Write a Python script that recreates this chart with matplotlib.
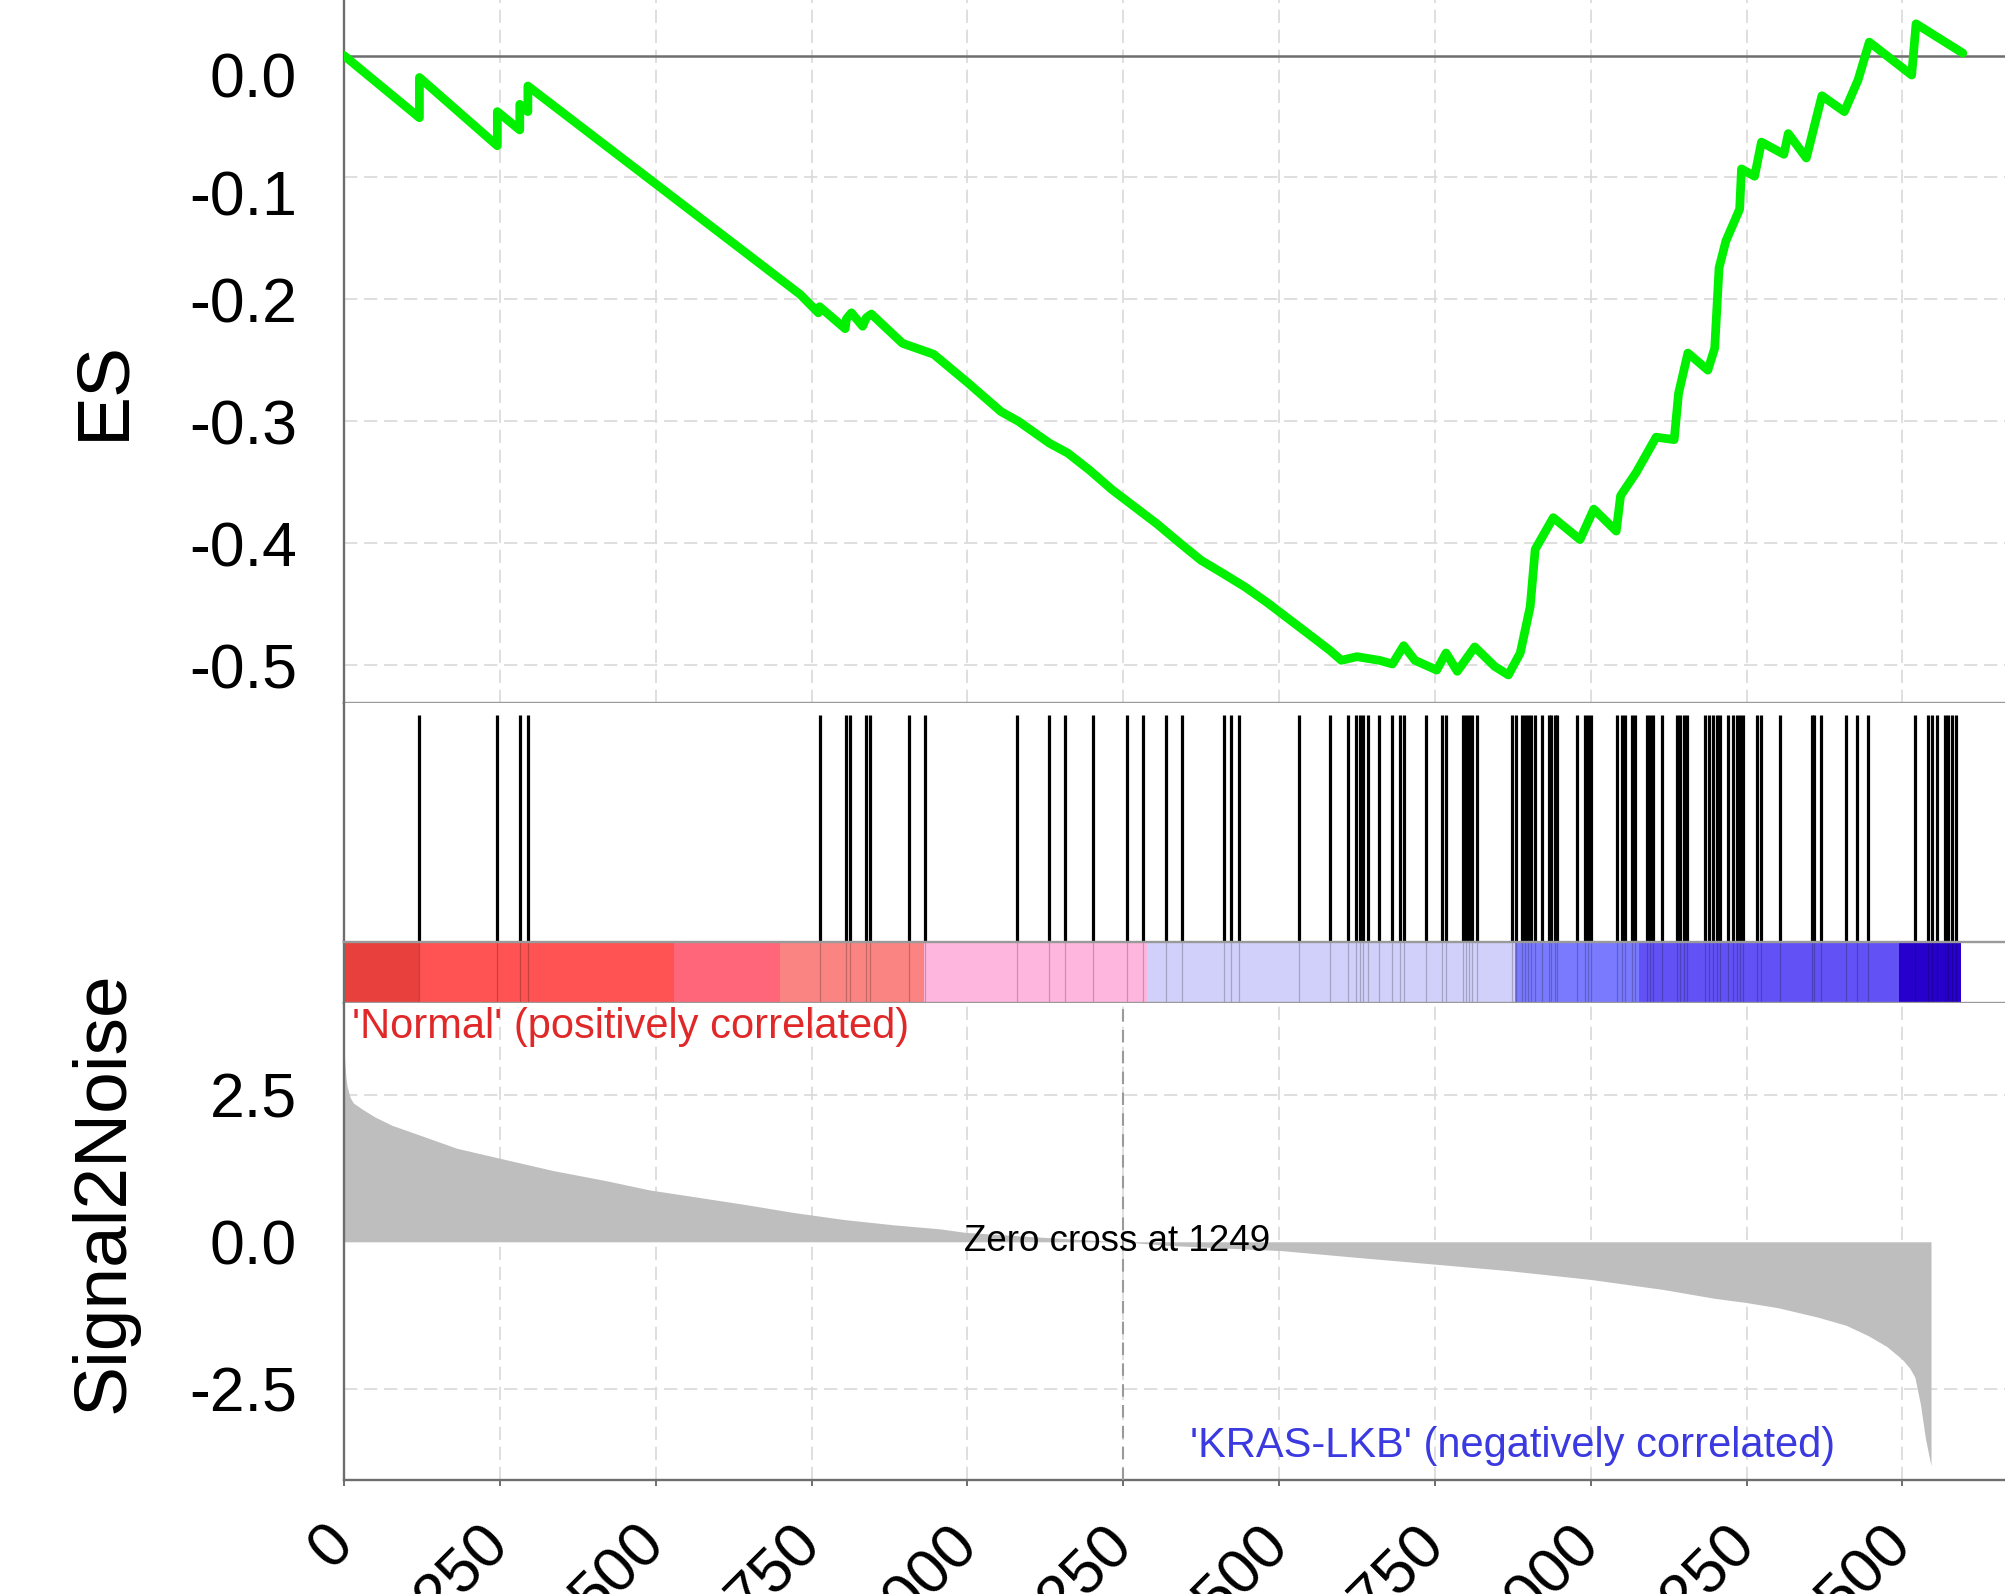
import matplotlib
matplotlib.use("Agg")
import matplotlib.pyplot as plt
import matplotlib.transforms as mtransforms

plt.rcParams['font.family'] = ['Liberation Sans', 'DejaVu Sans']
plt.rcParams['axes.unicode_minus'] = False

# ---------------- data ----------------
# running enrichment score (rank, ES) vertices
es_rank = [0, 121, 121, 246, 246, 282, 282, 295, 295, 732, 761, 763, 804, 806,
           814, 832, 838, 846, 896, 946, 1000, 1054, 1082, 1132, 1161, 1196, 1232,
           1268, 1304, 1339, 1375, 1411, 1446, 1482, 1518, 1554, 1582, 1600, 1625,
           1661, 1682, 1700, 1718, 1753, 1768, 1786, 1814, 1846, 1868, 1887, 1903,
           1911, 1940, 1983, 2005, 2041, 2048, 2073, 2105, 2134, 2141, 2156, 2188,
           2199, 2206, 2217, 2239, 2242, 2263, 2274, 2310, 2317, 2346, 2371, 2407,
           2429, 2447, 2515, 2522, 2597]
es_value = [0.000, -0.051, -0.018, -0.074, -0.046, -0.061, -0.040, -0.046, -0.025,
            -0.196, -0.211, -0.206, -0.224, -0.216, -0.211, -0.222, -0.215, -0.212,
            -0.236, -0.245, -0.268, -0.292, -0.300, -0.318, -0.326, -0.340, -0.356,
            -0.370, -0.384, -0.399, -0.414, -0.425, -0.436, -0.449, -0.463, -0.477,
            -0.488, -0.496, -0.493, -0.496, -0.499, -0.484, -0.496, -0.504, -0.490,
            -0.505, -0.485, -0.501, -0.508, -0.490, -0.452, -0.405, -0.379, -0.397,
            -0.372, -0.390, -0.361, -0.342, -0.313, -0.315, -0.277, -0.244, -0.258,
            -0.240, -0.174, -0.152, -0.126, -0.093, -0.099, -0.071, -0.081, -0.064,
            -0.084, -0.033, -0.046, -0.020, 0.011, -0.016, 0.026, 0.002]

# positions of gene-set members in the ranked list
hits = [121, 246, 282, 295, 763, 806, 812, 838, 844, 907, 932, 1080, 1131, 1157,
        1202, 1256, 1282, 1319, 1344, 1412, 1423, 1436, 1532, 1582, 1611, 1624,
        1630, 1635, 1643, 1661, 1681, 1694, 1701, 1736, 1762, 1768, 1795, 1800,
        1805, 1810, 1818, 1874, 1880, 1890, 1895, 1900, 1905, 1910, 1922, 1933,
        1937, 1942, 1946, 1978, 1991, 1996, 2001, 2043, 2050, 2055, 2066, 2071,
        2090, 2095, 2100, 2114, 2138, 2144, 2150, 2155, 2184, 2190, 2197, 2202,
        2207, 2220, 2228, 2235, 2240, 2244, 2267, 2273, 2304, 2355, 2359, 2369,
        2410, 2427, 2445, 2520, 2541, 2547, 2556, 2568, 2574, 2580, 2586]

# ranked list metric (Signal2Noise) profile
metric_rank = [0, 1, 3, 5, 10, 15, 30, 50, 77, 120, 181, 250, 336, 420, 491, 560,
               646, 720, 801, 880, 956, 997, 1100, 1180, 1249, 1320, 1420, 1504,
               1620, 1750, 1868, 2000, 2116, 2198, 2248, 2300, 2364, 2410, 2446,
               2475, 2500, 2512, 2520, 2529, 2537, 2546]
metric_value = [3.45, 3.10, 2.80, 2.64, 2.45, 2.36, 2.25, 2.12, 1.98, 1.82, 1.59,
                1.42, 1.21, 1.04, 0.88, 0.77, 0.63, 0.50, 0.38, 0.29, 0.22, 0.16,
                0.09, 0.04, 0.00, -0.06, -0.11, -0.15, -0.26, -0.38, -0.49, -0.64,
                -0.81, -0.96, -1.03, -1.12, -1.28, -1.42, -1.60, -1.78, -2.00,
                -2.15, -2.30, -2.76, -3.34, -3.81]
zero_cross = 1249

# heat-map bar of the ranked list
bar_edges = [0, 121, 529, 700, 931, 1289, 1878, 2078, 2494, 2594]
bar_colors = ['#E8403C', '#FF5252', '#FF667A', '#FA8482', '#FFB6DE',
              '#D0D0FA', '#7A7AFF', '#6252F5', '#2800CD']

x_ticks = [0, 250, 500, 750, 1000, 1250, 1500, 1750, 2000, 2250, 2500]
es_ticks = [0.0, -0.1, -0.2, -0.3, -0.4, -0.5]
rk_ticks = [2.5, 0.0, -2.5]

pos_label = "'Normal' (positively correlated)"
neg_label = "'KRAS-LKB' (negatively correlated)"

# ---------------- layout ----------------
W, H = 2005, 1594
fig = plt.figure(figsize=(W / 100, H / 100), dpi=100)


def box(x0, y_top, x1, y_bot):
    return [x0 / W, 1 - y_bot / H, (x1 - x0) / W, (y_bot - y_top) / H]


XL, XR = 344, 2027
ax_es = fig.add_axes(box(XL, -42, XR, 703))
ax_hit = fig.add_axes(box(XL, 703, XR, 942))
ax_bar = fig.add_axes(box(XL, 942, XR, 1003))
ax_rk = fig.add_axes(box(XL, 1003, XR, 1480))

dark = '#6E6E6E'
sep = '#9A9A9A'
grid_kw = dict(color='#D9D9D9', lw=1.2, ls=(0, (8, 4)))

for ax in (ax_es, ax_hit, ax_bar, ax_rk):
    ax.set_xlim(0, 2700)
    ax.set_facecolor('white')
    ax.spines['right'].set_visible(False)
    ax.spines['top'].set_visible(False)
    ax.spines['left'].set_color(dark)
    ax.spines['left'].set_linewidth(1.7)
    ax.spines['bottom'].set_color(sep)
    ax.spines['bottom'].set_linewidth(1.7)
    ax.set_xticks(x_ticks)
    ax.tick_params(axis='both', length=0, labelsize=45, pad=34)

# ES panel
ax_es.set_ylim(-0.531, 0.080)
ax_es.set_yticks(es_ticks)
ax_es.set_yticklabels([f'{v:.1f}' for v in es_ticks])
ax_es.set_xticklabels([])
# the two upper score labels sit a little below their grid lines
for lab, drop in zip(ax_es.get_yticklabels()[:2], (14, 11)):
    lab.set_transform(lab.get_transform() +
                      mtransforms.ScaledTranslation(0, -drop / 72,
                                                    fig.dpi_scale_trans))
for x in x_ticks:
    ax_es.axvline(x, zorder=0, **grid_kw)
for y in es_ticks[1:]:
    ax_es.axhline(y, zorder=0, **grid_kw)
ax_es.axhline(0, color=dark, lw=1.8, zorder=1)
ax_es.plot(es_rank, es_value, color='#00F000', lw=6.3,
           solid_joinstyle='round', solid_capstyle='round', zorder=3)

# hits panel
ax_hit.set_ylim(0, 1)
ax_hit.set_yticks([])
ax_hit.set_xticklabels([])
ax_hit.spines['bottom'].set_visible(False)
ax_hit.vlines(hits, 0, 0.95, color='black', lw=2.3)

# heat-map bar
ax_bar.set_ylim(0, 1)
ax_bar.set_yticks([])
ax_bar.set_xticklabels([])
ax_bar.spines['top'].set_visible(True)
ax_bar.spines['top'].set_color(sep)
ax_bar.spines['top'].set_linewidth(1.7)
for lo, hi, c in zip(bar_edges[:-1], bar_edges[1:], bar_colors):
    ax_bar.axvspan(lo, hi, color=c, lw=0)
ax_bar.vlines(hits, 0, 1, color='black', alpha=0.22, lw=0.9)

# ranked list panel
ax_rk.set_ylim(-4.05, 4.06)
ax_rk.set_yticks(rk_ticks)
ax_rk.set_yticklabels([f'{v:.1f}' for v in rk_ticks])
ax_rk.spines['bottom'].set_color(dark)
for x in x_ticks:
    ax_rk.axvline(x, zorder=0, **grid_kw)
for y in (2.5, -2.5):
    ax_rk.axhline(y, zorder=0, **grid_kw)
ax_rk.fill_between(metric_rank, 0, metric_value, color='#BEBEBE', lw=0, zorder=2)
ax_rk.axvline(zero_cross, color='#9A9A9A', lw=1.5, ls=(0, (6, 4)), zorder=3)
ax_rk.text(1240, 0, f'Zero cross at {zero_cross}', ha='center', va='center',
           fontsize=26.5, color='black', zorder=5)
ax_rk.text(13, 3.66, pos_label, ha='left', va='center', fontsize=30,
           color='#E02828', zorder=5)
ax_rk.text(2392, -3.47, neg_label, ha='right', va='center', fontsize=30,
           color='#3A3AE0', zorder=5)

ax_rk.set_xticklabels([str(v) for v in x_ticks], rotation=45, ha='right',
                      va='center', rotation_mode='anchor')
ax_rk.tick_params(axis='x', length=4, width=1.4, color=dark, pad=35)

# axis titles
fig.text(104 / W, 1 - 390 / H, 'ES', rotation=90, ha='center', va='center',
         fontsize=54)
fig.text(104 / W, 1 - 1192 / H, 'Signal2Noise', rotation=90, ha='center',
         va='center', fontsize=54)

fig.savefig('out.png', dpi=100)
